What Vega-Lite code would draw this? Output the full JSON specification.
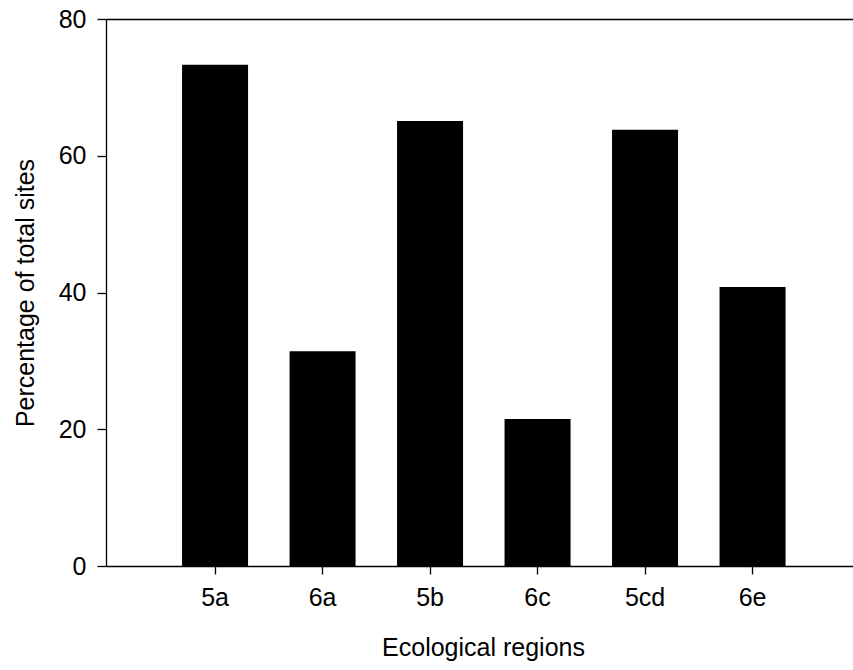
{
  "$schema": "https://vega.github.io/schema/vega-lite/v6.json",
  "autosize": "none",
  "width": 747,
  "height": 547,
  "padding": {"left": 106, "top": 19, "right": 0, "bottom": 104},
  "background": "white",
  "config": {
    "view": {"stroke": null},
    "font": "Liberation Sans",
    "axis": {
      "domainColor": "black",
      "domainWidth": 1.3,
      "tickColor": "black",
      "tickWidth": 1.3,
      "grid": false,
      "labelFont": "Liberation Sans",
      "labelFontSize": 25,
      "labelColor": "black",
      "titleFont": "Liberation Sans",
      "titleFontSize": 25,
      "titleFontWeight": "normal",
      "titleColor": "black"
    }
  },
  "data": {
    "values": [
      {"region": "5a", "pct": 73.3},
      {"region": "6a", "pct": 31.4},
      {"region": "5b", "pct": 65.1},
      {"region": "6c", "pct": 21.5},
      {"region": "5cd", "pct": 63.8},
      {"region": "6e", "pct": 40.8}
    ]
  },
  "layer": [
    {
      "mark": {"type": "bar", "color": "black"},
      "encoding": {
        "x": {
          "field": "region",
          "type": "nominal",
          "sort": null,
          "scale": {"paddingInner": 0.386, "paddingOuter": 0.6675, "align": 0.53},
          "axis": {
            "orient": "bottom",
            "title": "Ecological regions",
            "labelAngle": 0,
            "tickSize": 8,
            "labelPadding": 11,
            "titlePadding": 25,
            "titleX": 377
          }
        },
        "y": {
          "field": "pct",
          "type": "quantitative",
          "scale": {"domain": [0, 80], "nice": false},
          "axis": {
            "title": "Percentage of total sites",
            "values": [0, 20, 40, 60, 80],
            "tickSize": 9,
            "labelPadding": 11,
            "titlePadding": 20
          }
        }
      }
    },
    {
      "mark": {"type": "bar", "opacity": 0},
      "encoding": {
        "x": {
          "field": "region",
          "type": "nominal",
          "sort": null,
          "axis": {"orient": "top", "title": null, "labels": false, "ticks": false}
        },
        "y": {"field": "pct", "type": "quantitative"}
      }
    }
  ],
  "resolve": {"axis": {"x": "independent"}}
}
